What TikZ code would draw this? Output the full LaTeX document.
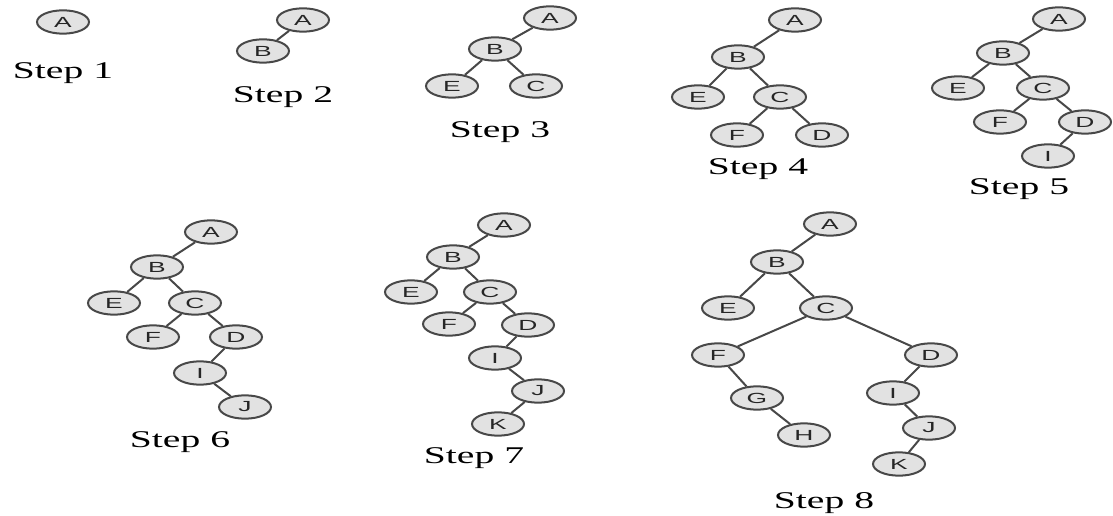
\documentclass[tikz,border=0pt]{standalone}
\usepackage{fontspec}
\usepackage{tikz}
\usetikzlibrary{shapes.geometric}

\newfontfamily\keyfont[FakeStretch=1.8]{Liberation Sans}
\newfontfamily\stepfont[FakeStretch=1.65]{Liberation Serif}
\definecolor{keyfill}{RGB}{226,226,226}
\definecolor{keyline}{RGB}{72,72,72}

\tikzset{
  key/.style={ellipse, draw=keyline, fill=keyfill, line width=1.5pt,
    minimum width=39pt, minimum height=17.5pt, inner sep=0pt,
    font=\keyfont\fontsize{11}{11}\selectfont, text=black!85},
  link/.style={draw=keyline, line width=1.5pt},
  steplabel/.style={anchor=base, font=\stepfont\fontsize{18}{18}\selectfont}
}

\begin{document}
\begin{tikzpicture}[x=0.75pt, y=-0.75pt]
    \useasboundingbox (0,0) rectangle (1113,516);

    % step 1
    \node[key] (s1a) at (63,22) {A};
    \node[steplabel] (s1l) at (63,79) {Step 1};

    % step 2
    \node[key] (s2a) at (303,20) {A};
    \node[key] (s2b) at (263,51) {B};
    \draw[link] (s2a) -- (s2b);
    \node[steplabel] (s2l) at (283,103) {Step 2};

    % step 3
    \node[key] (s3a) at (550,18) {A};
    \node[key] (s3b) at (495,49) {B};
    \node[key] (s3e) at (452,86) {E};
    \node[key] (s3c) at (536,86) {C};
    \draw[link] (s3a) -- (s3b) (s3b) -- (s3e) (s3b) -- (s3c);
    \node[steplabel] (s3l) at (500,138) {Step 3};

    % step 4
    \node[key] (s4a) at (795,20) {A};
    \node[key] (s4b) at (738,57) {B};
    \node[key] (s4e) at (698,97) {E};
    \node[key] (s4c) at (780,97) {C};
    \node[key] (s4f) at (737,135) {F};
    \node[key] (s4d) at (822,135) {D};
    \draw[link] (s4a) -- (s4b) (s4b) -- (s4e) (s4b) -- (s4c)
                (s4c) -- (s4f) (s4c) -- (s4d);
    \node[steplabel] (s4l) at (758,175) {Step 4};

    % step 5
    \node[key] (s5a) at (1059,19) {A};
    \node[key] (s5b) at (1003,53) {B};
    \node[key] (s5e) at (958,88) {E};
    \node[key] (s5c) at (1043,88) {C};
    \node[key] (s5f) at (1000,122) {F};
    \node[key] (s5d) at (1085,122) {D};
    \node[key] (s5i) at (1048,156) {I};
    \draw[link] (s5a) -- (s5b) (s5b) -- (s5e) (s5b) -- (s5c)
                (s5c) -- (s5f) (s5c) -- (s5d) (s5d) -- (s5i);
    \node[steplabel] (s5l) at (1019,195) {Step 5};

    % step 6
    \node[key] (s6a) at (211,232) {A};
    \node[key] (s6b) at (157,267) {B};
    \node[key] (s6e) at (114,303) {E};
    \node[key] (s6c) at (195,303) {C};
    \node[key] (s6f) at (153,337) {F};
    \node[key] (s6d) at (236,337) {D};
    \node[key] (s6i) at (200,373) {I};
    \node[key] (s6j) at (245,407) {J};
    \draw[link] (s6a) -- (s6b) (s6b) -- (s6e) (s6b) -- (s6c)
                (s6c) -- (s6f) (s6c) -- (s6d) (s6d) -- (s6i) (s6i) -- (s6j);
    \node[steplabel] (s6l) at (180,447) {Step 6};

    % step 7
    \node[key] (s7a) at (504,225) {A};
    \node[key] (s7b) at (453,257) {B};
    \node[key] (s7e) at (411,292) {E};
    \node[key] (s7c) at (490,292) {C};
    \node[key] (s7f) at (449,324) {F};
    \node[key] (s7d) at (528,325) {D};
    \node[key] (s7i) at (495,358) {I};
    \node[key] (s7j) at (538,391) {J};
    \node[key] (s7k) at (498,424) {K};
    \draw[link] (s7a) -- (s7b) (s7b) -- (s7e) (s7b) -- (s7c)
                (s7c) -- (s7f) (s7c) -- (s7d) (s7d) -- (s7i)
                (s7i) -- (s7j) (s7j) -- (s7k);
    \node[steplabel] (s7l) at (474,463) {Step 7};

    % step 8
    \node[key] (s8a) at (830,224) {A};
    \node[key] (s8b) at (777,262) {B};
    \node[key] (s8e) at (728,308) {E};
    \node[key] (s8c) at (826,308) {C};
    \node[key] (s8f) at (718,355) {F};
    \node[key] (s8d) at (931,355) {D};
    \node[key] (s8g) at (757,398) {G};
    \node[key] (s8h) at (804,435) {H};
    \node[key] (s8i) at (893,393) {I};
    \node[key] (s8j) at (929,428) {J};
    \node[key] (s8k) at (899,464) {K};
    \draw[link] (s8a) -- (s8b) (s8b) -- (s8e) (s8b) -- (s8c)
                (s8c) -- (s8f) (s8c) -- (s8d) (s8f) -- (s8g) (s8g) -- (s8h)
                (s8d) -- (s8i) (s8i) -- (s8j) (s8j) -- (s8k);
    \node[steplabel] (s8l) at (824,508) {Step 8};

\end{tikzpicture}
\end{document}
